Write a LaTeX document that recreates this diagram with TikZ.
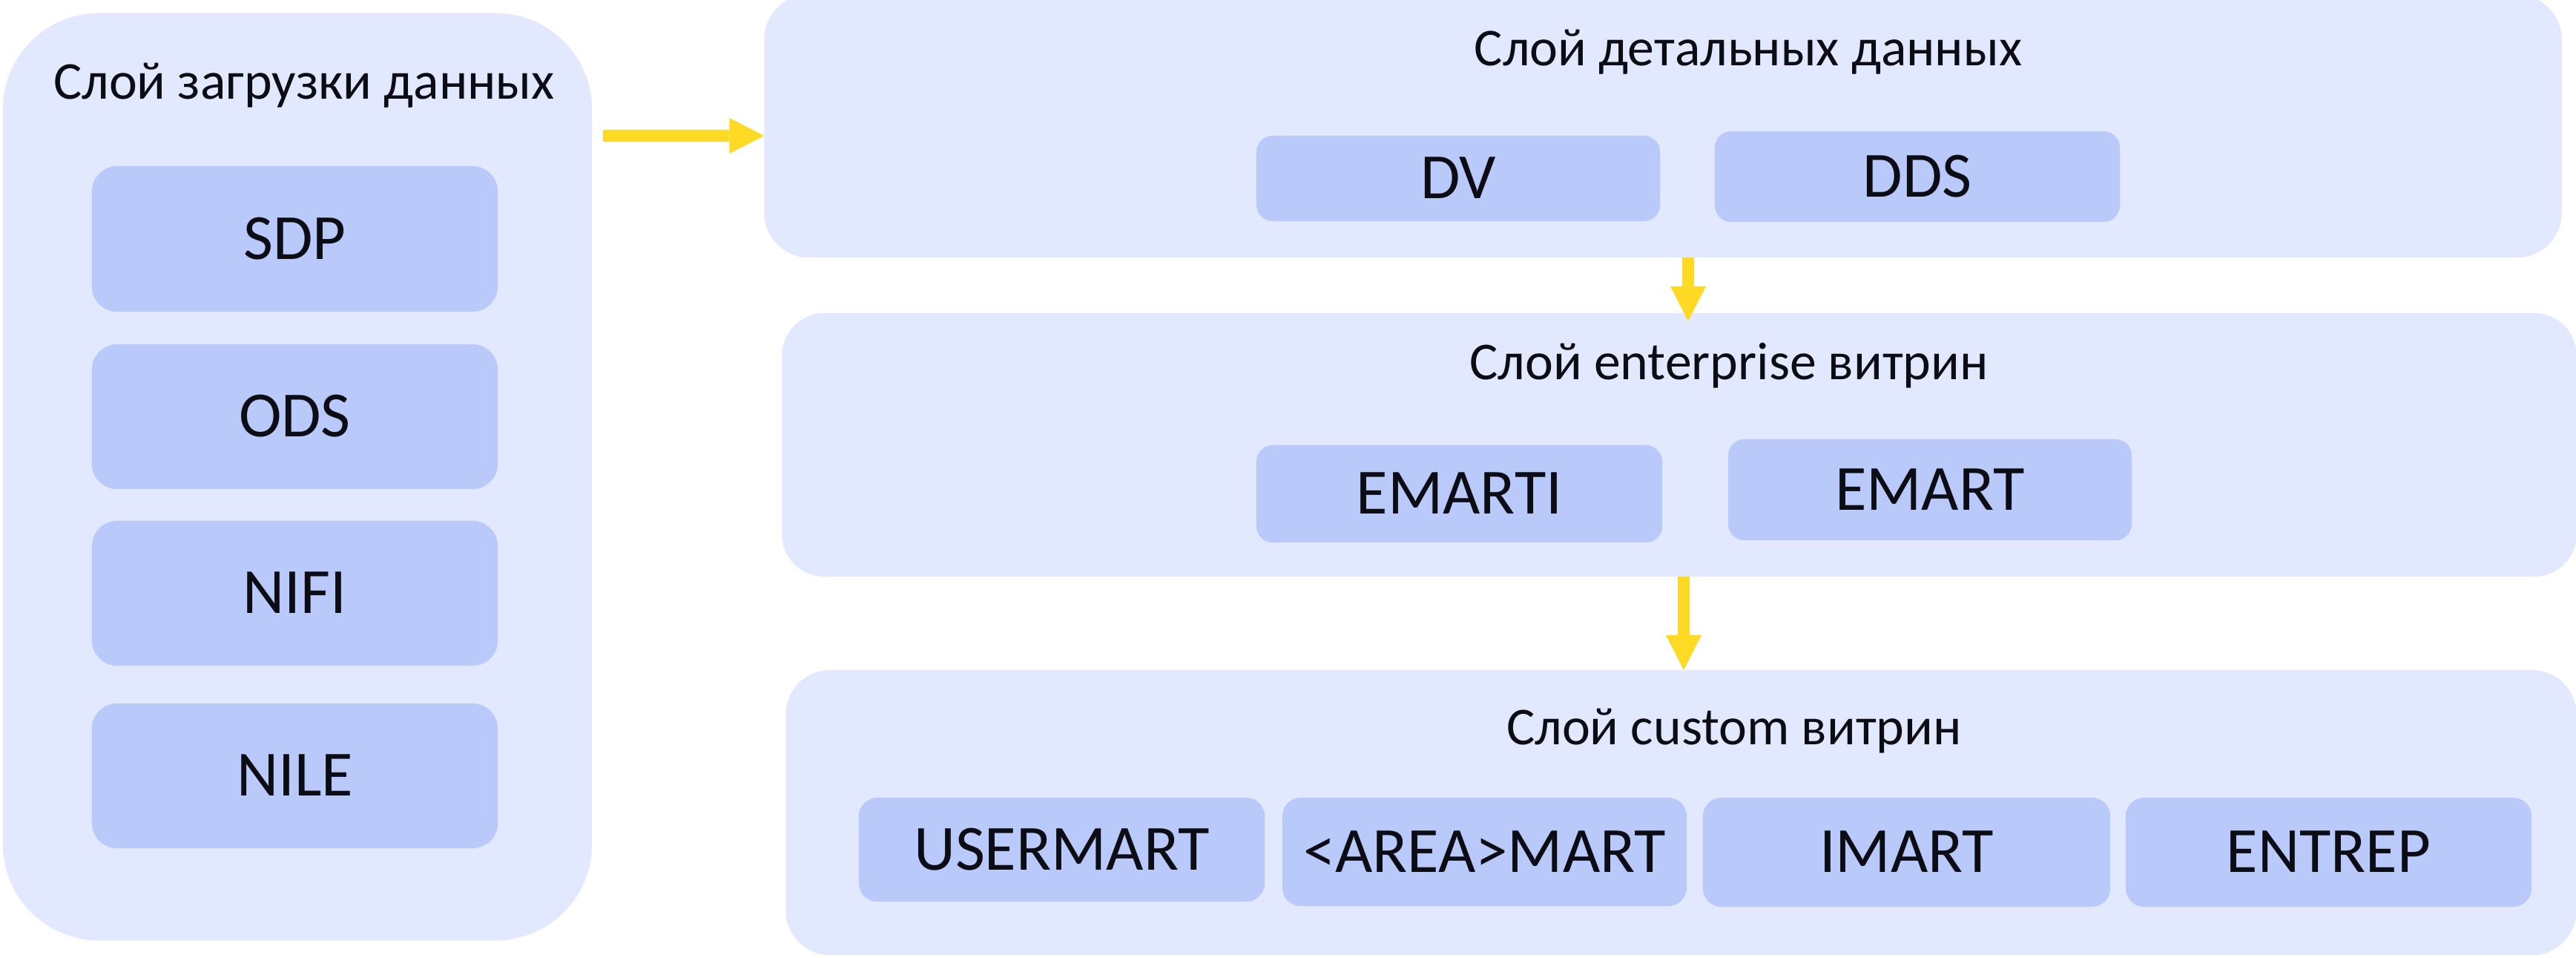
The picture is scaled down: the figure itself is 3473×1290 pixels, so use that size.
\documentclass[tikz,border=0pt]{standalone}
\usepackage{fontspec}
\setmainfont{Carlito}
\usetikzlibrary{arrows.meta}
\definecolor{panelc}{RGB}{226,232,254}
\definecolor{boxc}{RGB}{184,201,250}
\definecolor{arrowc}{RGB}{254,218,36}
\definecolor{ink}{RGB}{12,12,20}
\begin{document}
\begin{tikzpicture}[x=0.01cm,y=-0.01cm,
  panelbox/.style={fill=panelc, draw=none, inner sep=0pt, outer sep=0pt},
  itembox/.style={fill=boxc, draw=none, inner sep=0pt, outer sep=0pt, text=ink,
    font=\fontsize{24.7pt}{26pt}\selectfont, text height=15.6pt, text depth=0pt, align=center},
  titletext/.style={anchor=base, inner sep=0pt, text=ink, font=\fontsize{20.4pt}{24pt}\selectfont},
  arr/.style={draw=arrowc, line width=0.16cm, -{Triangle[length=0.47cm,width=0.48cm,line width=0pt]}}
]
\clip (0,0) rectangle (3473,1290);
\fill[white] (0,0) rectangle (3473,1290);

% left panel
\node[panelbox, rounded corners=1.3cm, minimum width=7.94cm, minimum height=12.49cm] (L) at (401,642.5) {};
\node[titletext] (Lt) at (410,133) {Слой загрузки данных};
\node[itembox, rounded corners=0.34cm, minimum width=5.47cm, minimum height=1.96cm] (sdp) at (397.5,322) {SDP};
\node[itembox, rounded corners=0.34cm, minimum width=5.47cm, minimum height=1.95cm] (ods) at (397.5,561.5) {ODS};
\node[itembox, rounded corners=0.34cm, minimum width=5.47cm, minimum height=1.95cm] (nifi) at (397.5,799.5) {NIFI};
\node[itembox, rounded corners=0.34cm, minimum width=5.47cm, minimum height=1.95cm] (nile) at (397.5,1045.5) {NILE};

% top panel
\node[panelbox, rounded corners=0.6cm, minimum width=24.22cm, minimum height=3.54cm] (T) at (2242,170) {};
\node[titletext] (Tt) at (2357,88) {Слой детальных данных};
\node[itembox, rounded corners=0.22cm, minimum width=5.44cm, minimum height=1.15cm] (dv) at (1966,240.5) {DV};
\node[itembox, rounded corners=0.22cm, minimum width=5.46cm, minimum height=1.22cm] (dds) at (2585,238) {DDS};

% middle panel
\node[panelbox, rounded corners=0.57cm, minimum width=24.18cm, minimum height=3.55cm] (M) at (2264,599.5) {};
\node[titletext] (Mt) at (2331,511) {Слой enterprise витрин};
\node[itembox, rounded corners=0.22cm, minimum width=5.47cm, minimum height=1.31cm] (emarti) at (1967.5,665.5) {EMARTI};
\node[itembox, rounded corners=0.22cm, minimum width=5.44cm, minimum height=1.36cm] (emart) at (2602,660) {EMART};

% bottom panel
\node[panelbox, rounded corners=0.6cm, minimum width=24.13cm, minimum height=3.84cm] (B) at (2266.5,1095) {};
\node[titletext] (Bt) at (2338,1003) {Слой custom витрин};
\node[itembox, rounded corners=0.25cm, minimum width=5.47cm, minimum height=1.40cm] (usermart) at (1431.5,1145) {USERMART};
\node[itembox, rounded corners=0.25cm, minimum width=5.45cm, minimum height=1.46cm] (areamart) at (2001.5,1148) {<AREA>MART};
\node[itembox, rounded corners=0.25cm, minimum width=5.49cm, minimum height=1.47cm] (imart) at (2570.5,1148.5) {IMART};
\node[itembox, rounded corners=0.25cm, minimum width=5.47cm, minimum height=1.47cm] (entrep) at (3139.5,1148.5) {ENTREP};

% arrows
\coordinate (h1) at (813,183);
\coordinate (v1) at (2276,0);
\coordinate (v2) at (2270,0);
\draw[arr] (h1) -- (T.west |- h1);
\draw[arr, shorten >=-0.11cm] (T.south -| v1) -- (M.north -| v1);
\draw[arr] (M.south -| v2) -- (B.north -| v2);
\end{tikzpicture}
\end{document}
